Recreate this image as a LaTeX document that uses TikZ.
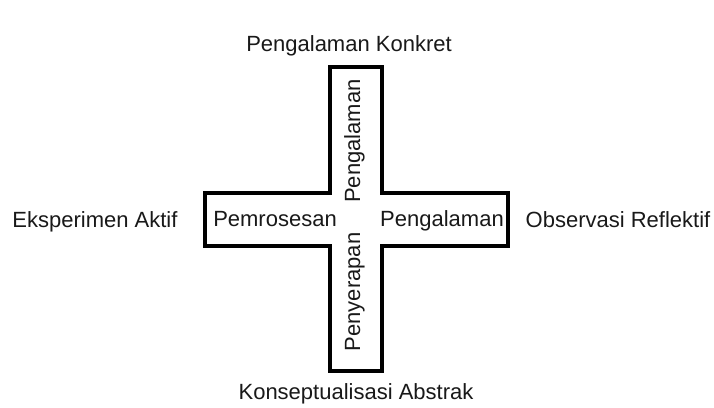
\documentclass[tikz,border=0pt]{standalone}
\usepackage{fontspec}
\setmainfont{Liberation Sans}
\begin{document}
\begin{tikzpicture}[x=1pt,y=-1pt,
  lbl/.style={inner sep=0pt,anchor=base,font=\fontsize{22}{25}\selectfont,text=black!90},
  crossline/.style={draw=black,line width=3.8pt,line join=miter}]
\useasboundingbox[fill=white] (0,0) rectangle (714,407);
\draw[crossline] (330,67) coordinate (c1) -- (382,67) -- (382,193) -- (508,193) -- (508,246)
  -- (382,246) -- (382,371) -- (330,371) -- (330,246) -- (205,246) -- (205,193) -- (330,193) -- cycle;
\node[lbl] (konkret) at (349,51) {Pengalaman Konkret};
\node[lbl] (abstrak) at (356,399) {Konseptualisasi Abstrak};
\node[lbl] (aktif) at (95,227) {Eksperimen Aktif};
\node[lbl] (reflektif) at (618,227) {Observasi Reflektif};
\node[lbl] (pemrosesan) at (275,226) {Pemrosesan};
\node[lbl] (pengalamanH) at (442,226) {Pengalaman};
\node[lbl,rotate=90] (pengalamanV) at (360,141) {Pengalaman};
\node[lbl,rotate=90] (penyerapan) at (360,292) {Penyerapan};
\end{tikzpicture}
\end{document}
